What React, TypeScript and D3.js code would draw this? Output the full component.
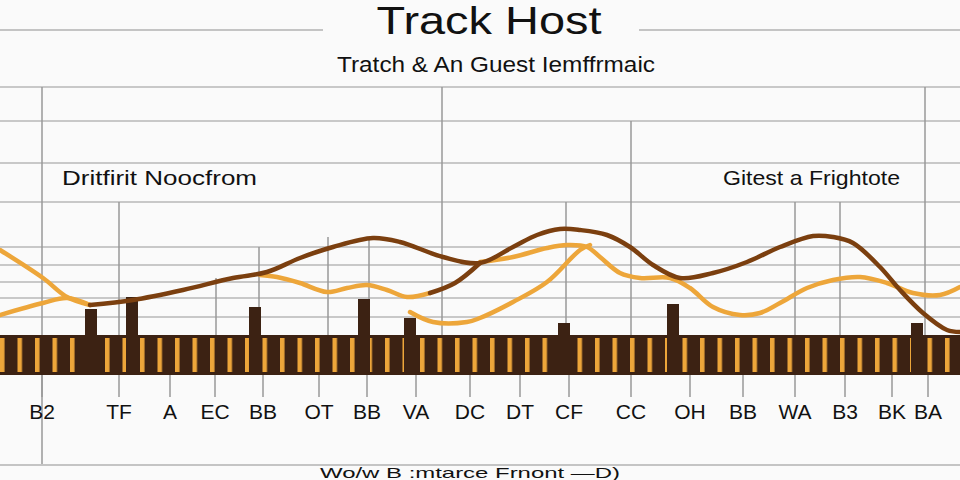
import React from "react";
import * as d3 from "d3";

const WIDTH = 960;
const HEIGHT = 480;

// category ticks along the track (track units, 1 unit = 10px)
const categories = ["B2", "TF", "A", "EC", "BB", "OT", "BB", "VA", "DC", "DT", "CF", "CC", "OH", "BB", "WA", "B3", "BK", "BA"];
const categoryPos = [4.2, 11.9, 17, 21.5, 26.3, 31.9, 36.7, 41.6, 47, 52, 56.9, 63.1, 69, 74.3, 79.5, 84.5, 89.2, 92.8];

// event bars
const barPos = [9.1, 13.2, 25.5, 36.4, 41.0, 56.4, 67.3, 91.7];
const barValues = [5.2, 7.6, 5.6, 7.2, 3.4, 2.4, 6.2, 2.4];

// host series (brown)
const hostX = [9, 13.3, 18.3, 23.3, 26.7, 30, 33.3, 37.3, 40, 44.3, 48, 51.3, 53.7, 56, 58, 60.7, 63, 65.3, 68, 71.3, 74.7, 78, 81.3, 83.3, 85.3, 88, 90, 92.3, 94.7, 96];
const hostY = [6, 7, 9, 11.4, 12.6, 15.4, 17.6, 19.4, 18.6, 15.6, 14.4, 17.6, 20, 21.2, 21, 20, 17.6, 14, 11.4, 12.4, 14.6, 17.6, 19.8, 19.6, 18.4, 13.6, 9, 4.4, 1, 0.6];
const hostLinkX = [43, 45.5, 48];
const hostLinkY = [8.4, 10.4, 14.4];

// guest series (orange), drawn in pieces
const guestUpperLeftX = [0, 4.3, 6.7, 9];
const guestUpperLeftY = [17, 11.4, 7.6, 6];
const guestLowerLeftX = [0, 4.3, 6.7, 9];
const guestLowerLeftY = [4, 6.4, 7.4, 6];
const guestMidX = [26, 27.7, 30, 32.7, 34.7, 36.7, 38.7, 40.7, 43];
const guestMidY = [12, 11.6, 10.4, 8.6, 9.4, 10, 9, 7.6, 8.4];
const guestRightX = [48, 51.3, 54.7, 56.7, 58.7, 60, 62, 64, 67, 69, 71.3, 74, 76, 78, 80.7, 83.3, 86, 88.7, 91.3, 94, 96];
const guestRightY = [14.6, 15.6, 17.4, 18, 17.6, 15.6, 12.4, 11.4, 11.4, 9.4, 5.6, 4, 4.4, 6.4, 9.4, 11, 11.6, 10.4, 8.4, 8, 9.6];
const guestLowX = [41, 43.3, 46.7, 48, 51.3, 54.7, 58, 59];
const guestLowY = [4.6, 2.6, 2.6, 3.4, 6.6, 10.6, 17, 18];

// grid
const gridValues = [49.6, 42.8, 34.4, 26.6, 17.6, 14, 10.6, 7.4, 3.6];
const ruleX = [44.2, 63.1, 92.5, 11.9, 21.6, 25.9, 32.8, 36.9, 56.6, 79.5, 84];
const ruleTop = [49.6, 42.8, 49.6, 26.6, 11.4, 17.6, 19.6, 19, 26.6, 26.6, 26.6];

const BROWN = "#7b3f0f";
const ORANGE = "#eda63a";
const DARK = "#3c2213";
const FONT = "'Liberation Sans', Arial, sans-serif";

export default function App() {
  const x = d3.scaleLinear().domain([0, 96]).range([0, WIDTH]);
  const y = d3.scaleLinear().domain([0, 50]).range([335, 85]);

  const bandTop = y(0);
  const bandBottom = bandTop + 40;
  const axisX = 42;

  const line = d3
    .line<[number, number]>()
    .x((d) => x(d[0]))
    .y((d) => y(d[1]))
    .curve(d3.curveCatmullRom);

  const zip = (xs: number[], ys: number[]) => xs.map((v, i) => [v, ys[i]] as [number, number]);

  const guestPieces = [
    zip(guestUpperLeftX, guestUpperLeftY),
    zip(guestLowerLeftX, guestLowerLeftY),
    zip(guestMidX, guestMidY),
    zip(guestRightX, guestRightY),
    zip(guestLowX, guestLowY),
  ];
  const hostPieces = [zip(hostX, hostY), zip(hostLinkX, hostLinkY)];

  return (
    <svg
      width={WIDTH}
      height={HEIGHT}
      style={{ position: "absolute", left: 0, top: 0, fontFamily: FONT }}
    >
      <defs>
        <pattern id="stripes" x={0} y={bandTop} width={17.5} height={40} patternUnits="userSpaceOnUse">
          <rect x={0} y={0} width={17.5} height={40} fill={DARK} />
          <rect x={0} y={3} width={4.5} height={34} fill={ORANGE} />
        </pattern>
      </defs>
      <rect width={WIDTH} height={HEIGHT} fill="#fafafa" />

      {/* title rules */}
      <line x1={0} x2={323} y1={30} y2={30} stroke="#c4c4c4" strokeWidth={2} />
      <line x1={639} x2={WIDTH} y1={30} y2={30} stroke="#c4c4c4" strokeWidth={2} />
      <text x={489} y={34} textAnchor="middle" fontSize={38} textLength={225} lengthAdjust="spacingAndGlyphs" fill="#111">
        Track Host
      </text>
      <text x={496} y={72} textAnchor="middle" fontSize={22} textLength={318} lengthAdjust="spacingAndGlyphs" fill="#111">
        Tratch &amp; An Guest Iemffrmaic
      </text>

      {/* horizontal grid */}
      {gridValues.map((v, i) => (
        <line key={`g${i}`} x1={0} x2={WIDTH} y1={y(v)} y2={y(v)} stroke="#c8c8c8" strokeWidth={2} />
      ))}

      {/* vertical rules */}
      {ruleX.map((v, i) => (
        <line key={`r${i}`} x1={x(v)} x2={x(v)} y1={y(ruleTop[i])} y2={bandTop} stroke="#999" strokeWidth={1.5} />
      ))}
      <line x1={axisX} x2={axisX} y1={y(49.6)} y2={465} stroke="#999" strokeWidth={1.5} />
      <line x1={0} x2={WIDTH} y1={465} y2={465} stroke="#c4c4c4" strokeWidth={2} />

      <text x={62} y={185} fontSize={21} textLength={195} lengthAdjust="spacingAndGlyphs" fill="#111">
        Dritfirit Noocfrom
      </text>
      <text x={723} y={185} fontSize={21} textLength={177} lengthAdjust="spacingAndGlyphs" fill="#111">
        Gitest a Frightote
      </text>

      {/* striped track band */}
      <rect x={0} y={bandTop} width={WIDTH} height={bandBottom - bandTop} fill="url(#stripes)" />

      {/* event bars */}
      {barPos.map((p, i) => (
        <rect
          key={`b${i}`}
          x={x(p) - 6}
          y={y(barValues[i])}
          width={12}
          height={bandBottom - y(barValues[i])}
          fill={DARK}
        />
      ))}

      {/* ticks and labels */}
      {categories.map((c, i) => (
        <g key={`c${i}`}>
          <line x1={x(categoryPos[i])} x2={x(categoryPos[i])} y1={bandBottom} y2={397} stroke="#999" strokeWidth={1.5} />
          <text x={x(categoryPos[i])} y={419} textAnchor="middle" fontSize={21} fill="#111">
            {c}
          </text>
        </g>
      ))}

      {/* series */}
      {guestPieces.map((p, i) => (
        <path key={`o${i}`} d={line(p) ?? ""} fill="none" stroke={ORANGE} strokeWidth={4.5} strokeLinecap="round" />
      ))}
      {hostPieces.map((p, i) => (
        <path key={`h${i}`} d={line(p) ?? ""} fill="none" stroke={BROWN} strokeWidth={4.5} strokeLinecap="round" />
      ))}

      <text x={320} y={478} fontSize={15} textLength={300} lengthAdjust="spacingAndGlyphs" fill="#111">
        Wo/w B :mtarce Frnont —D)
      </text>
    </svg>
  );
}
